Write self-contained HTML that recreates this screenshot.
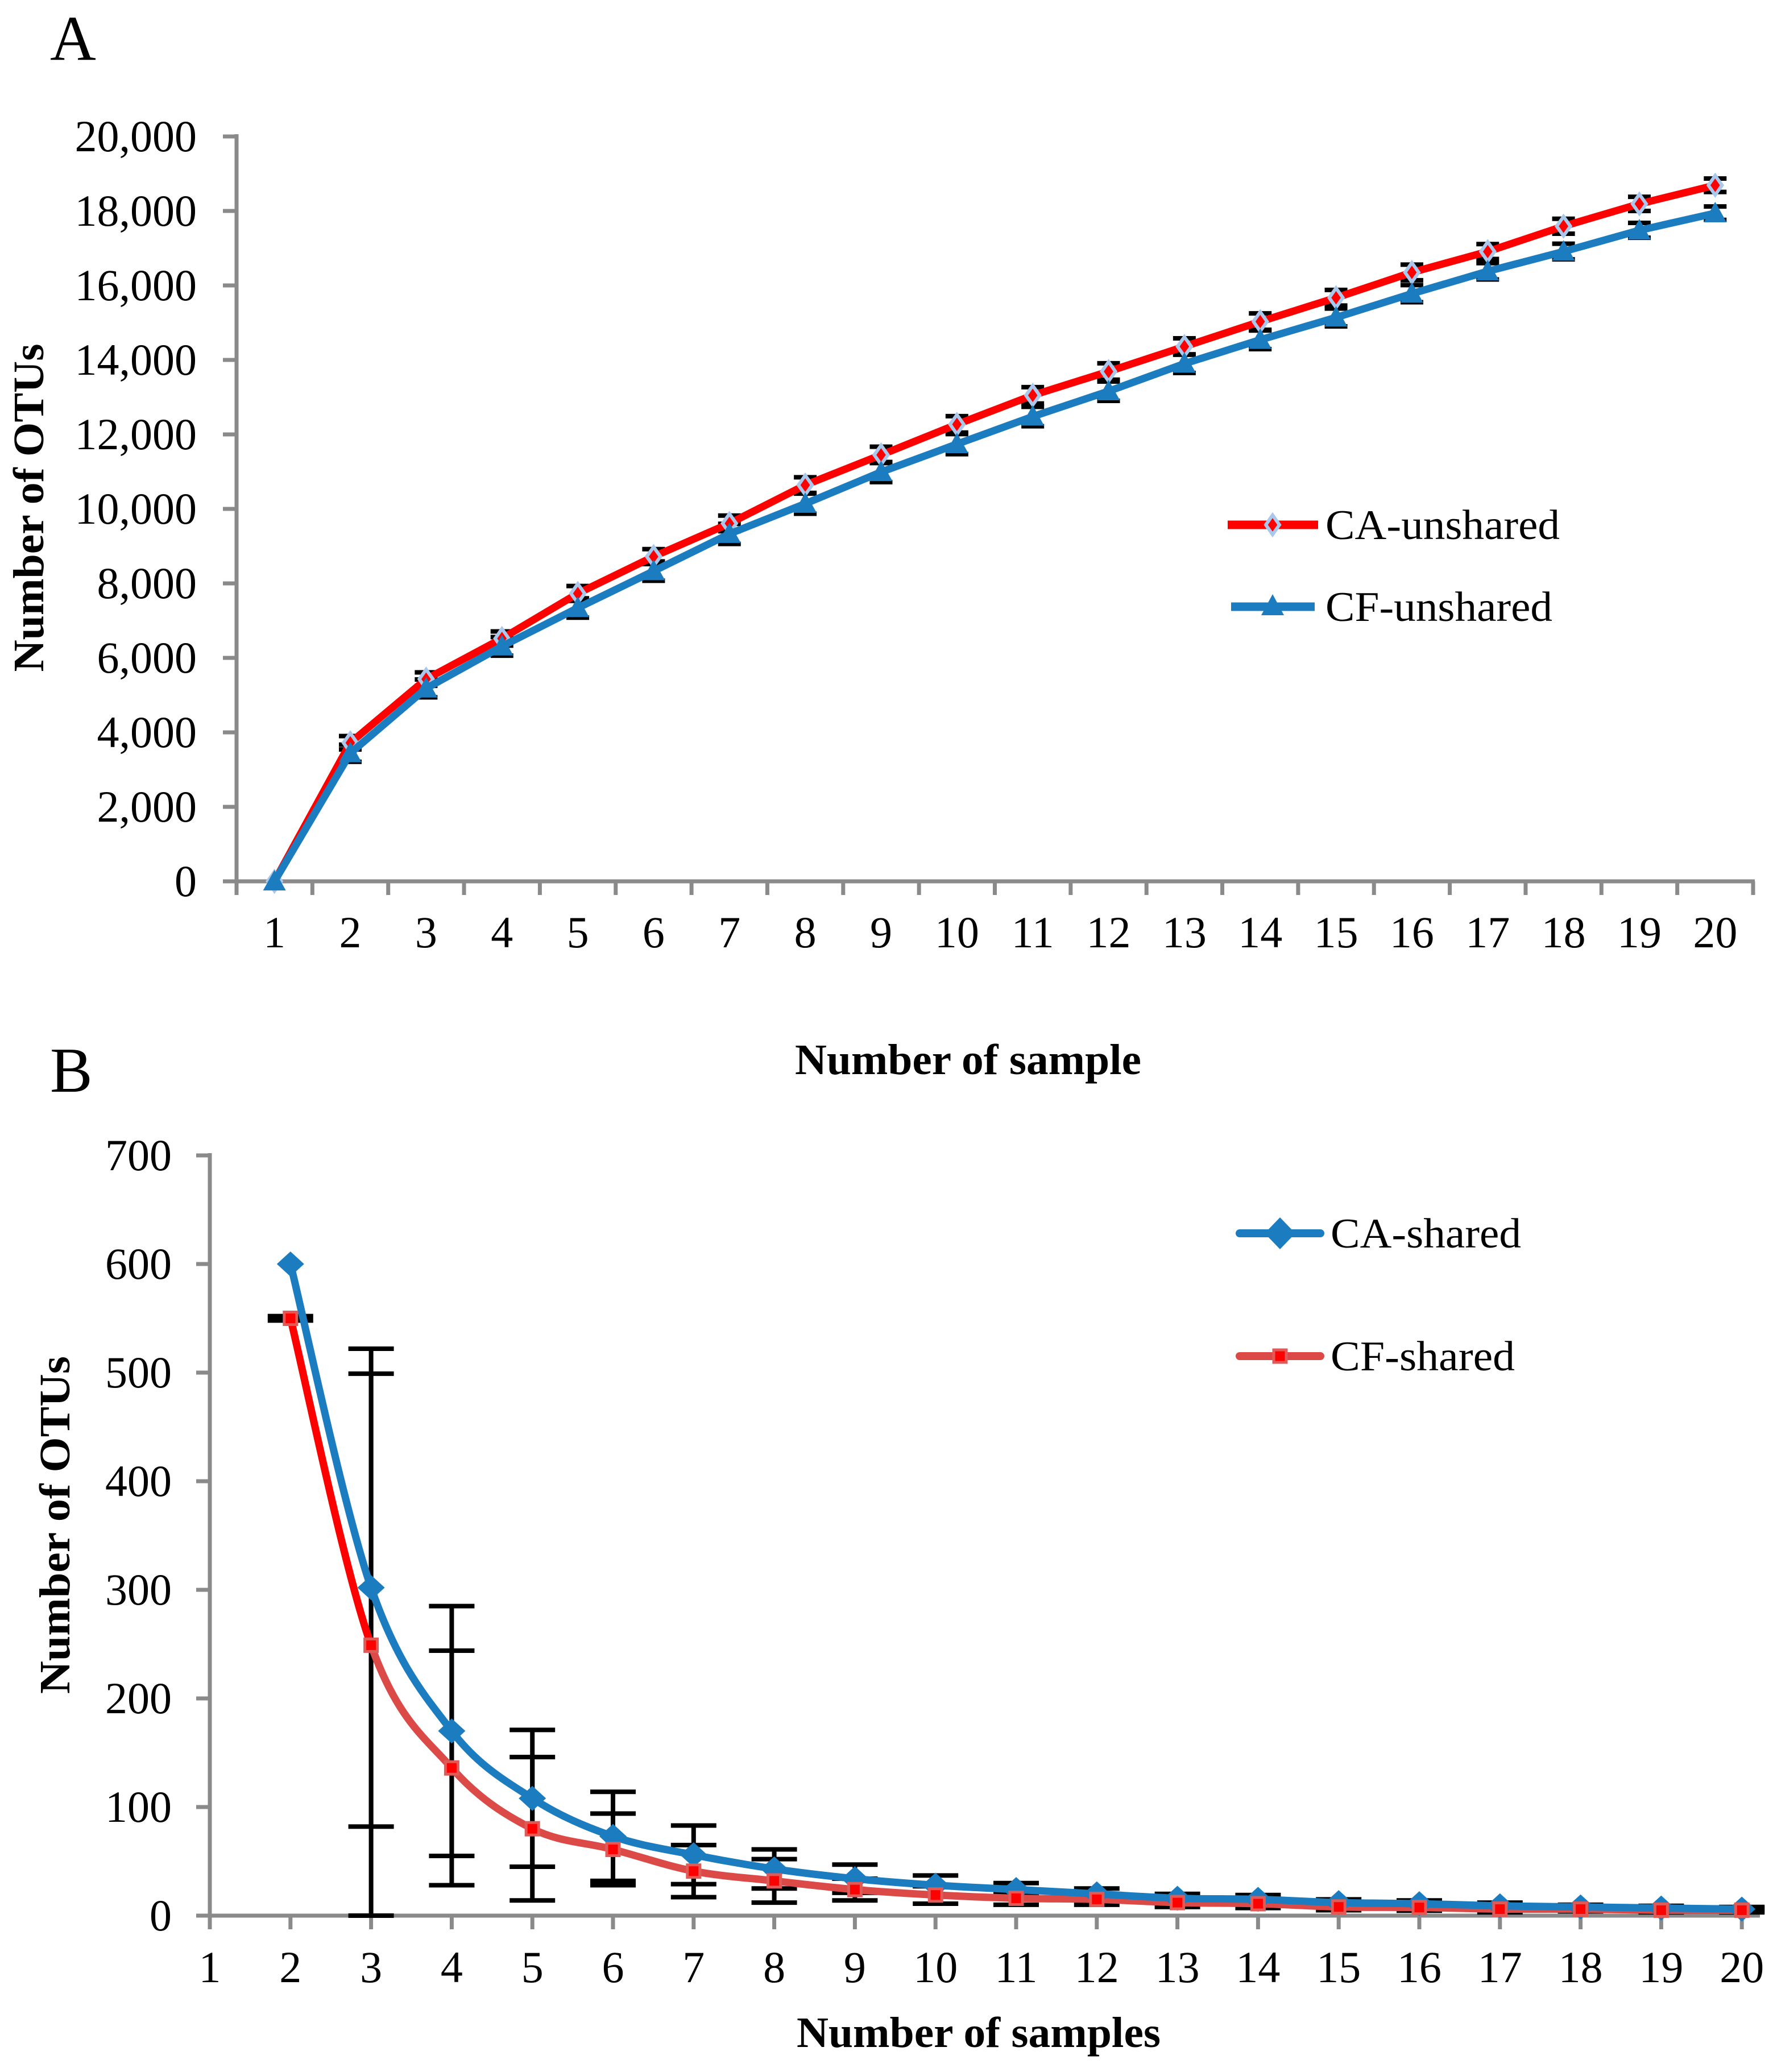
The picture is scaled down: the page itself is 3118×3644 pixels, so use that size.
<!DOCTYPE html>
<html><head><meta charset="utf-8">
<style>
html,body{margin:0;padding:0;background:#fff;}
svg{display:block;}
text{font-family:"Liberation Serif",serif;fill:#000;}
</style></head>
<body>
<svg id="fig" xmlns="http://www.w3.org/2000/svg" width="3118" height="3644" viewBox="0 0 3118 3644">
<rect x="0" y="0" width="3118" height="3644" fill="#fff"/>
<text x="88" y="105" font-size="112">A</text>
<text x="88" y="1920" font-size="112">B</text>
<g id="chartA"></g>
<g id="chartB"></g>
</svg>
<script>
// ---- Chart A data ----
const catsA = [1,2,3,4,5,6,7,8,9,10,11,12,13,14,15,16,17,18,19,20];
const caUnshared = [0,3720,5430,6520,7730,8720,9610,10640,11450,12270,13050,13690,14360,15030,15670,16350,16910,17590,18190,18690];
const cfUnshared = [0,3440,5180,6310,7340,8330,9330,10140,10990,11740,12480,13160,13900,14540,15140,15780,16380,16910,17480,17940];
const caUnsharedErr = [0,180,180,190,200,200,210,210,220,220,220,220,220,220,210,210,200,200,190,180];
const cfUnsharedErr = [0,230,240,250,260,260,270,270,270,270,260,260,250,250,240,230,220,210,200,180];
const yTicksA = [0,2000,4000,6000,8000,10000,12000,14000,16000,18000,20000];
const yTickLabelsA = ["0","2,000","4,000","6,000","8,000","10,000","12,000","14,000","16,000","18,000","20,000"];
// ---- Chart B data ----
const catsB = [1,2,3,4,5,6,7,8,9,10,11,12,13,14,15,16,17,18,19,20];
const caSharedX = [2,3,4,5,6,7,8,9,10,11,12,13,14,15,16,17,18,19,20];
const caShared = [600,302,170,108,73,56,43,34,28,24,20,16,15,12,11,9,8,7,6];
const cfShared = [550,249,136,80,61,41,32,24,19,16,15,12,11,8,7.5,6,6,5,5];
const caSharedErr = [0,220,115,63,41,27,18,13,9,6,5,4,4,3,3,3,2,2,2];
const cfSharedErr = [2,250,108,66,33,24,20,10,8,6,5,4,4,3,3,3,2,2,2];
const yTicksB = [0,100,200,300,400,500,600,700];

const NS = "http://www.w3.org/2000/svg";
function mk(tag, attrs, parent){const e=document.createElementNS(NS,tag);for(const k in attrs)e.setAttribute(k,attrs[k]);parent.appendChild(e);return e;}
const AX = "#8a8a8a";

// ===== Chart A =====
(function(){
  const g = document.getElementById('chartA');
  const x0=416, x1=3083, y0=1550, y1=240;
  const step=(x1-x0)/catsA.length;
  const xs = i => x0 + (i+0.5)*step;
  const ys = v => y0 - (v/20000)*(y0-y1);
  let a = mk('line',{x1:x0,y1:y1-4,x2:x0,y2:y0+24,stroke:AX,'stroke-width':7},g);
  
  
  a = mk('line',{x1:x0-24,y1:y0,x2:x1+3,y2:y0,stroke:AX,'stroke-width':7},g);
  
  
  yTicksA.forEach((v,i)=>{
    const t=mk('line',{x1:x0-24,y1:ys(v),x2:x0,y2:ys(v),stroke:AX,'stroke-width':7},g);
    
    
    const l=mk('text',{x:346,y:ys(v)+26,'font-size':78,'text-anchor':'end'},g);
    l.textContent=yTickLabelsA[i];
    
    
  });
  for(let i=0;i<=catsA.length;i++){
    const t=mk('line',{x1:x0+i*step,y1:y0,x2:x0+i*step,y2:y0+24,stroke:AX,'stroke-width':7},g);
    
    
  }
  catsA.forEach((c,i)=>{
    const l=mk('text',{x:xs(i),y:1666,'font-size':78,'text-anchor':'middle'},g);
    l.textContent=c;
    
    
  });
  function err(vals,errs,name){
    vals.forEach((v,i)=>{
      if(!errs[i])return;
      const x=xs(i);
      const e=mk('path',{d:`M${x},${ys(v+errs[i])}V${ys(v-errs[i])}M${x-20},${ys(v+errs[i])}h40M${x-20},${ys(v-errs[i])}h40`,stroke:'#000','stroke-width':8,fill:'none'},g);
      
      
    });
  }
  err(caUnshared,caUnsharedErr,'error-bar-ca-unshared');
  err(cfUnshared,cfUnsharedErr,'error-bar-cf-unshared');
  let p = mk('polyline',{points:caUnshared.map((v,i)=>xs(i)+','+ys(v)).join(' '),fill:'none',stroke:'#ff0000','stroke-width':13,'stroke-linejoin':'round'},g);
  
  
  caUnshared.forEach((v,i)=>{
    const x=xs(i),y=ys(v);
    const m=mk('path',{d:`M${x},${y-17}L${x+12},${y}L${x},${y+17}L${x-12},${y}Z`,fill:'#ff0000',stroke:'#a9c8ec','stroke-width':6},g);
    
    
  });
  p = mk('polyline',{points:cfUnshared.map((v,i)=>xs(i)+','+ys(v)).join(' '),fill:'none',stroke:'#1b7cc0','stroke-width':13,'stroke-linejoin':'round'},g);
  
  
  cfUnshared.forEach((v,i)=>{
    const x=xs(i),y=ys(v);
    const m=mk('path',{d:`M${x},${y-20}L${x+20},${y+16}L${x-20},${y+16}Z`,fill:'#1b7cc0'},g);
    
    
  });
  let t=mk('text',{x:1398,y:1889,'font-size':76,'font-weight':'bold',textLength:609,lengthAdjust:'spacingAndGlyphs'},g);
  t.textContent='Number of sample';
  
  
  t=mk('text',{x:0,y:0,'font-size':76,'font-weight':'bold',textLength:577,lengthAdjust:'spacingAndGlyphs','text-anchor':'middle',transform:'translate(76,893) rotate(-90)'},g);
  t.textContent='Number of OTUs';
  
  
  let lg=mk('g',{},g);
  
  
  let e=mk('line',{x1:2159,y1:923,x2:2318,y2:923,stroke:'#ff0000','stroke-width':15},lg);
  
  
  e=mk('path',{d:'M2238,906L2250,923L2238,940L2226,923Z',fill:'#ff0000',stroke:'#a9c8ec','stroke-width':6},lg);
  
  
  e=mk('text',{x:2331,y:948,'font-size':74,textLength:412,lengthAdjust:'spacingAndGlyphs'},lg);
  e.textContent='CA-unshared';
  
  
  e=mk('line',{x1:2165,y1:1067,x2:2312,y2:1067,stroke:'#1b7cc0','stroke-width':15},lg);
  
  
  e=mk('path',{d:'M2238,1045L2258,1082L2218,1082Z',fill:'#1b7cc0'},lg);
  
  
  e=mk('text',{x:2331,y:1092,'font-size':74,textLength:399,lengthAdjust:'spacingAndGlyphs'},lg);
  e.textContent='CF-unshared';
  
  
})();

// ===== Chart B =====
(function(){
  const g = document.getElementById('chartB');
  const x0=369, step=141.8, y0=3369, y1=2032;
  const xs = c => x0 + (c-1)*step;
  const ys = v => y0 - (v/700)*(y0-y1);
  let a = mk('line',{x1:x0,y1:y1-4,x2:x0,y2:y0+24,stroke:AX,'stroke-width':7},g);
  
  
  a = mk('line',{x1:x0-24,y1:y0,x2:3095,y2:y0,stroke:AX,'stroke-width':7},g);
  
  
  yTicksB.forEach(v=>{
    const t=mk('line',{x1:x0-24,y1:ys(v),x2:x0,y2:ys(v),stroke:AX,'stroke-width':7},g);
    
    
    const l=mk('text',{x:302,y:ys(v)+26,'font-size':78,'text-anchor':'end'},g);
    l.textContent=v;
    
    
  });
  catsB.forEach(c=>{
    const t=mk('line',{x1:xs(c),y1:y0,x2:xs(c),y2:y0+24,stroke:AX,'stroke-width':7},g);
    
    
    const l=mk('text',{x:xs(c),y:3486,'font-size':78,'text-anchor':'middle'},g);
    l.textContent=c;
    
    
  });
  function err(vals,errs,name){
    vals.forEach((v,i)=>{
      if(!errs[i])return;
      const x=xs(caSharedX[i]);
      const hi=ys(v+errs[i]), lo=ys(Math.max(0,v-errs[i]));
      const e=mk('path',{d:`M${x},${hi}V${lo}M${x-40},${hi}h80M${x-40},${lo}h80`,stroke:'#000','stroke-width':8,fill:'none'},g);
      
      
    });
  }
  err(caShared,caSharedErr,'error-bar-ca-shared');
  err(cfShared,cfSharedErr,'error-bar-cf-shared');
  function smooth(pts){
    let d=`M${pts[0][0]},${pts[0][1]}`;
    for(let i=0;i<pts.length-1;i++){
      const p0=pts[Math.max(0,i-1)],p1=pts[i],p2=pts[i+1],p3=pts[Math.min(pts.length-1,i+2)];
      const t=1/6;
      d+=`C${p1[0]+(p2[0]-p0[0])*t},${p1[1]+(p2[1]-p0[1])*t} ${p2[0]-(p3[0]-p1[0])*t},${p2[1]-(p3[1]-p1[1])*t} ${p2[0]},${p2[1]}`;
    }
    return d;
  }
  const cfPts = cfShared.map((v,i)=>[xs(caSharedX[i]),ys(v)]);
  let p=mk('path',{d:smooth(cfPts),fill:'none',stroke:'#dc4a48','stroke-width':13,'stroke-linecap':'round'},g);
  
  
  p=mk('path',{d:smooth(cfPts.slice(0,3)).split('C').slice(0,2).join('C'),fill:'none',stroke:'#ff0000','stroke-width':13},g);
  
  
  const caPts = caShared.map((v,i)=>[xs(caSharedX[i]),ys(v)]);
  p=mk('path',{d:smooth(caPts),fill:'none',stroke:'#1b7cc0','stroke-width':13,'stroke-linecap':'round'},g);
  
  
  caPts.forEach(([x,y])=>{
    const m=mk('path',{d:`M${x},${y-22}L${x+24},${y}L${x},${y+22}L${x-24},${y}Z`,fill:'#1b7cc0'},g);
    
    
  });
  cfPts.forEach(([x,y])=>{
    const m=mk('rect',{x:x-11,y:y-11,width:22,height:22,fill:'#ff0000',stroke:'#e05a58','stroke-width':5},g);
    
    
  });
  let t=mk('text',{x:1401,y:3600,'font-size':76,'font-weight':'bold',textLength:640,lengthAdjust:'spacingAndGlyphs'},g);
  t.textContent='Number of samples';
  
  
  t=mk('text',{x:0,y:0,'font-size':76,'font-weight':'bold',textLength:594,lengthAdjust:'spacingAndGlyphs','text-anchor':'middle','xml:space':'preserve',transform:'translate(122,2682) rotate(-90)'},g);
  t.textContent='Number  of OTUs';
  
  
  let lg=mk('g',{},g);
  
  
  let e=mk('line',{x1:2180,y1:2169,x2:2322,y2:2169,stroke:'#1b7cc0','stroke-width':14,'stroke-linecap':'round'},lg);
  
  
  e=mk('path',{d:'M2251,2141L2278,2169L2251,2197L2224,2169Z',fill:'#1b7cc0'},lg);
  
  
  e=mk('text',{x:2340,y:2194,'font-size':74,textLength:335,lengthAdjust:'spacingAndGlyphs'},lg);
  e.textContent='CA-shared';
  
  
  e=mk('line',{x1:2180,y1:2385,x2:2322,y2:2385,stroke:'#dc4a48','stroke-width':14,'stroke-linecap':'round'},lg);
  
  
  e=mk('rect',{x:2240,y:2374,width:22,height:22,fill:'#ff0000',stroke:'#e05a58','stroke-width':5},lg);
  
  
  e=mk('text',{x:2340,y:2410,'font-size':74,textLength:324,lengthAdjust:'spacingAndGlyphs'},lg);
  e.textContent='CF-shared';
  
  
})();
</script>
</body></html>
